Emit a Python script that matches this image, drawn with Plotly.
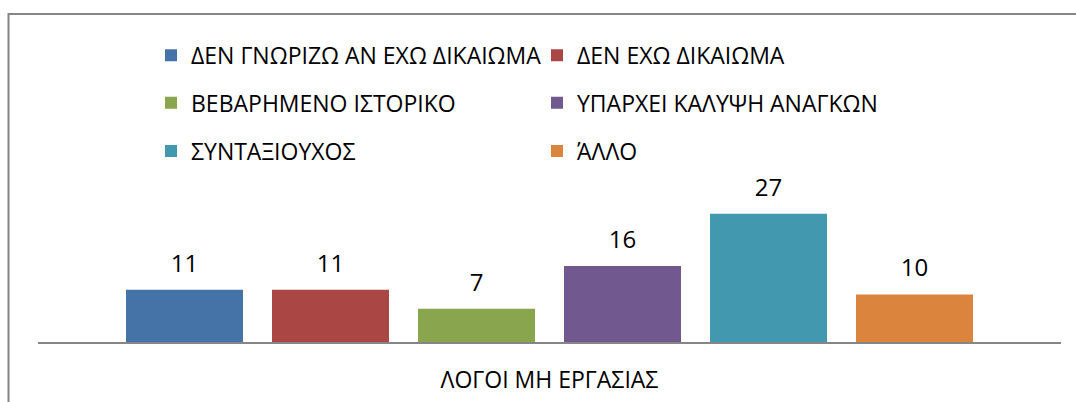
import plotly.graph_objects as go

# ---- data ----
category = ["ΛΟΓΟΙ ΜΗ ΕΡΓΑΣΙΑΣ"]
series_names = [
    "ΔΕΝ ΓΝΩΡΙΖΩ ΑΝ ΕΧΩ ΔΙΚΑΙΩΜΑ",
    "ΔΕΝ ΕΧΩ ΔΙΚΑΙΩΜΑ",
    "ΒΕΒΑΡΗΜΕΝΟ ΙΣΤΟΡΙΚΟ",
    "ΥΠΑΡΧΕΙ ΚΑΛΥΨΗ ΑΝΑΓΚΩΝ",
    "ΣΥΝΤΑΞΙΟΥΧΟΣ",
    "ΆΛΛΟ",
]
series_values = [11, 11, 7, 16, 27, 10]
series_colors = ["#4572A7", "#AA4643", "#89A54E", "#71588F", "#4198AF", "#DB843D"]

FONT = "Open Sans, Noto Sans, DejaVu Sans, sans-serif"
W, H = 1076, 402
L, R = 38, 1061          # plot area x (px)
T, B = 175, 342.5        # plot area y (px)
YMAX = (B - T) / 4.76

fig = go.Figure()
legend_ids = ["legend", "legend", "legend2", "legend2", "legend3", "legend3"]
for name, val, col, lg in zip(series_names, series_values, series_colors, legend_ids):
    fig.add_trace(go.Bar(
        x=category, y=[val], name=name, marker=dict(color=col, line=dict(width=0)),
        offsetgroup=name, legend=lg, hoverinfo="skip",
    ))
for name, val in zip(series_names, series_values):
    fig.add_trace(go.Scatter(
        x=category, y=[val], mode="markers+text", text=[str(val)], textposition="top center",
        marker=dict(size=18, color="rgba(0,0,0,0)"),
        textfont=dict(family=FONT, size=24, color="#000000"),
        offsetgroup=name, showlegend=False, cliponaxis=False, hoverinfo="skip",
    ))


def px_x(px):
    return (px - L) / (R - L)


def px_y(py):
    return (B - py) / (B - T)


fig.add_shape(type="rect", xref="paper", yref="paper",
              x0=px_x(8.5), x1=px_x(1090), y0=px_y(13.5), y1=px_y(420),
              line=dict(color="#868686", width=2), fillcolor="rgba(0,0,0,0)", layer="above")

leg_common = dict(orientation="h", xref="paper", yref="paper",
                  xanchor="left", yanchor="middle", entrywidth=341, entrywidthmode="pixels",
                  font=dict(family=FONT, size=23, color="#000000"),
                  bgcolor="rgba(0,0,0,0)", borderwidth=0, traceorder="normal")
rows_y = [55, 102.5, 151]
leg_x = px_x(151)
fig.update_layout(
    width=W, height=H,
    margin=dict(l=L, r=W - R, t=T, b=H - B, pad=0, autoexpand=False),
    paper_bgcolor="white", plot_bgcolor="white",
    barmode="group", bargap=0.1437, bargroupgap=0.1986,
    scattermode="group", scattergap=0.1437,
    showlegend=True,
    legend=dict(leg_common, x=leg_x, y=px_y(rows_y[0])),
    legend2=dict(leg_common, x=leg_x, y=px_y(rows_y[1])),
    legend3=dict(leg_common, x=leg_x, y=px_y(rows_y[2])),
    xaxis=dict(type="category", range=[-0.5, 0.5], showline=True, linecolor="#868686",
               linewidth=2, showgrid=False, zeroline=False, ticks="outside", ticklen=16,
               tickcolor="rgba(0,0,0,0)", automargin=False,
               tickfont=dict(family=FONT, size=23, color="#000000")),
    yaxis=dict(range=[0, YMAX], visible=False, showgrid=False, zeroline=False, automargin=False),
    font=dict(family=FONT),
)
fig.write_html("out.html", config={"displayModeBar": False},
               post_script="document.body.style.margin='0px';")
